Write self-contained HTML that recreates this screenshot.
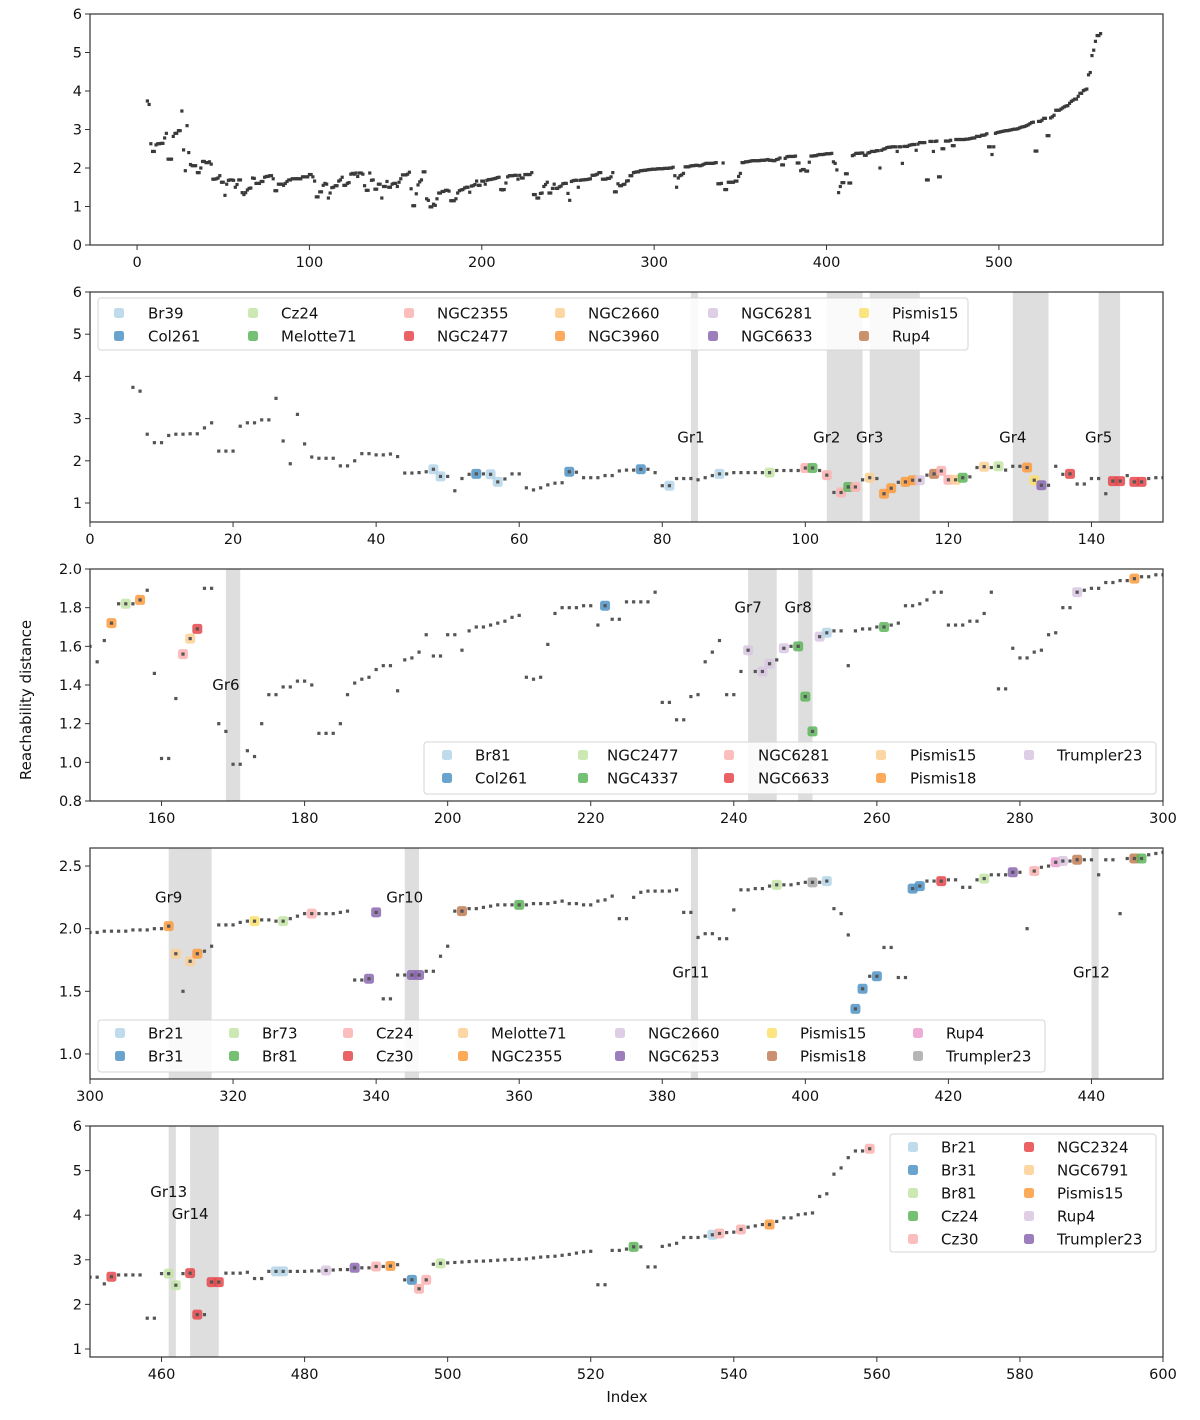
<!DOCTYPE html>
<html><head><meta charset="utf-8">
<style>
html,body{margin:0;padding:0;background:#fff;}
svg text{font-family:"DejaVu Sans","Liberation Sans",sans-serif;fill:#111;}
</style></head>
<body>
<svg id="chart" xmlns="http://www.w3.org/2000/svg" width="1200" height="1415" viewBox="0 0 1200 1415">
<rect width="1200" height="1415" fill="#fff"/>
<text x="0" y="0" font-size="15" text-anchor="middle" transform="translate(31,700) rotate(-90)">Reachability distance</text>
<text x="627" y="1402" font-size="15" text-anchor="middle">Index</text>
</svg>
<script>
// reachability values, starting at index 6 (indices 0-5 undefined)
const startIndex = 6;
const reach = [
3.74,3.65,2.63,2.43,2.43,2.6,2.63,2.63,2.64,2.64,2.78,2.90,2.23,2.23,2.23,2.82,2.9,2.9,2.97,2.97,
3.48,2.47,1.93,3.10,2.40,2.09,2.06,2.06,2.06,1.88,1.88,2.0,2.17,2.17,2.14,2.14,2.16,2.10,1.71,1.71,
1.72,1.74,1.80,1.63,1.63,1.29,1.58,1.68,1.69,1.69,1.68,1.50,1.57,1.69,1.69,1.36,1.31,1.36,1.43,1.47,
1.48,1.74,1.73,1.60,1.60,1.60,1.65,1.65,1.76,1.78,1.78,1.80,1.80,1.72,1.41,1.41,1.58,1.58,1.58,1.55,
1.60,1.65,1.69,1.69,1.72,1.72,1.72,1.72,1.72,1.72,1.77,1.77,1.77,1.77,1.83,1.83,1.77,1.66,1.25,1.25,
1.38,1.38,1.55,1.60,1.58,1.22,1.35,1.49,1.50,1.54,1.54,1.66,1.69,1.76,1.55,1.55,1.60,1.62,1.84,1.86,
1.84,1.87,1.78,1.87,1.87,1.84,1.54,1.42,1.42,1.87,1.68,1.69,1.45,1.45,1.58,1.58,1.22,1.52,1.52,1.65,
1.50,1.50,1.58,1.60,
1.60,1.52,1.63,1.72,1.82,1.82,1.82,1.84,1.89,1.46,1.02,1.02,1.33,1.56,1.64,1.69,1.90,1.90,1.20,1.16,
0.99,0.99,1.06,1.03,1.20,1.35,1.35,1.39,1.39,1.42,1.42,1.40,1.15,1.15,1.15,1.20,1.35,1.41,1.43,1.44,
1.48,1.50,1.50,1.37,1.53,1.54,1.57,1.66,1.55,1.55,1.66,1.66,1.58,1.68,1.70,1.70,1.71,1.72,1.73,1.75,
1.76,1.44,1.43,1.44,1.61,1.77,1.80,1.80,1.80,1.81,1.81,1.71,1.81,1.74,1.74,1.83,1.83,1.83,1.83,1.88,
1.31,1.31,1.22,1.22,1.34,1.35,1.52,1.57,1.63,1.35,1.35,1.47,1.58,1.47,1.47,1.51,1.53,1.59,1.60,1.60,
1.34,1.16,1.65,1.67,1.68,1.68,1.50,1.68,1.69,1.69,1.70,1.70,1.71,1.72,1.81,1.81,1.82,1.84,1.88,1.88,
1.71,1.71,1.71,1.73,1.73,1.77,1.88,1.38,1.38,1.59,1.54,1.54,1.57,1.58,1.66,1.67,1.80,1.80,1.88,1.89,
1.90,1.90,1.93,1.93,1.94,1.94,1.95,1.96,1.96,1.97,
1.97,1.97,1.98,1.98,1.98,1.98,1.99,1.99,1.99,2.00,2.00,2.02,1.80,1.50,1.74,1.80,1.82,1.86,2.03,2.03,
2.03,2.05,2.06,2.06,2.07,2.07,2.06,2.06,2.08,2.10,2.12,2.12,2.12,2.12,2.12,2.13,2.14,1.59,1.59,1.60,
2.13,1.44,1.44,1.63,1.63,1.63,1.63,1.66,1.66,1.78,1.86,2.14,2.14,2.16,2.16,2.17,2.18,2.19,2.19,2.19,
2.19,2.19,2.20,2.20,2.20,2.21,2.22,2.20,2.20,2.19,2.19,2.22,2.23,2.26,2.08,2.08,2.25,2.29,2.30,2.30,
2.30,2.30,2.31,2.13,2.13,1.93,1.96,1.96,1.92,1.92,2.15,2.31,2.31,2.32,2.32,2.34,2.35,2.35,2.35,2.36,
2.37,2.37,2.37,2.38,2.16,2.12,1.95,1.36,1.52,1.62,1.62,1.85,1.85,1.61,1.61,2.32,2.34,2.38,2.38,2.38,
2.39,2.39,2.33,2.33,2.39,2.40,2.43,2.43,2.43,2.45,2.45,2.00,2.46,2.49,2.50,2.53,2.54,2.54,2.55,2.55,
2.55,2.43,2.55,2.55,2.12,2.56,2.56,2.56,2.59,2.60,
2.61,2.61,2.46,2.62,2.66,2.66,2.66,2.66,1.69,1.69,2.69,2.69,2.43,2.69,2.70,1.77,1.77,2.50,2.50,2.70,
2.70,2.70,2.72,2.58,2.58,2.74,2.74,2.74,2.74,2.74,2.74,2.75,2.75,2.76,2.77,2.78,2.78,2.82,2.82,2.82,
2.85,2.85,2.86,2.89,2.55,2.55,2.35,2.55,2.90,2.92,2.93,2.94,2.95,2.96,2.97,2.97,2.98,2.99,3.00,3.01,
3.01,3.02,3.04,3.06,3.07,3.08,3.10,3.12,3.15,3.18,3.19,2.44,2.44,3.21,3.21,3.24,3.29,3.29,2.84,2.84,
3.30,3.33,3.37,3.50,3.50,3.50,3.53,3.56,3.59,3.61,3.62,3.68,3.73,3.76,3.79,3.79,3.86,3.94,3.94,4.01,
4.03,4.05,4.42,4.48,4.92,5.06,5.29,5.44,5.44,5.49
];

// cluster membership per panel: [index, cluster]
const members2 = [[48,"Br39"],[49,"Br39"],[54,"Col261"],[56,"Br39"],[57,"Br39"],[67,"Col261"],[77,"Col261"],[81,"Br39"],[88,"Br39"],[95,"Cz24"],[100,"NGC2355"],[101,"Melotte71"],[103,"NGC2355"],[105,"NGC2355"],[106,"Melotte71"],[107,"NGC2355"],[109,"NGC2660"],[111,"NGC3960"],[112,"NGC3960"],[114,"NGC3960"],[115,"NGC3960"],[116,"NGC6281"],[118,"Rup4"],[119,"NGC2355"],[120,"NGC2355"],[121,"NGC2660"],[122,"Melotte71"],[125,"NGC2660"],[127,"Cz24"],[131,"NGC3960"],[132,"Pismis15"],[133,"NGC6633"],[137,"NGC2477"],[143,"NGC2477"],[144,"NGC2477"],[146,"NGC2477"],[147,"NGC2477"]];
const members3 = [[153,"Pismis18"],[155,"NGC2477"],[157,"Pismis18"],[163,"NGC6281"],[164,"Pismis15"],[165,"NGC6633"],[222,"Col261"],[242,"Trumpler23"],[244,"Trumpler23"],[245,"Trumpler23"],[247,"Trumpler23"],[249,"NGC4337"],[250,"NGC4337"],[251,"NGC4337"],[252,"Trumpler23"],[253,"Br81"],[261,"NGC4337"],[288,"Trumpler23"],[296,"Pismis18"]];
const members4 = [[311,"NGC2355"],[312,"Melotte71"],[314,"Melotte71"],[315,"NGC2355"],[323,"Pismis15"],[327,"Br73"],[331,"Cz24"],[339,"NGC6253"],[340,"NGC6253"],[345,"NGC6253"],[346,"NGC6253"],[352,"Pismis18"],[360,"Br81"],[396,"Br73"],[401,"Trumpler23"],[403,"Br21"],[407,"Br31"],[408,"Br31"],[410,"Br31"],[415,"Br31"],[416,"Br31"],[419,"Cz30"],[425,"Br73"],[429,"NGC6253"],[432,"Cz24"],[435,"Rup4"],[436,"NGC2660"],[438,"Pismis18"],[446,"Pismis18"],[447,"Br81"]];
const members5 = [[453,"NGC2324"],[461,"Br81"],[462,"Br81"],[464,"NGC2324"],[465,"NGC2324"],[467,"NGC2324"],[468,"NGC2324"],[476,"Br21"],[477,"Br21"],[483,"Rup4"],[487,"Trumpler23"],[490,"Cz30"],[492,"Pismis15"],[495,"Br31"],[496,"Cz30"],[497,"Cz30"],[499,"Br81"],[526,"Cz24"],[537,"Br21"],[538,"Cz30"],[541,"Cz30"],[545,"Pismis15"],[559,"Cz30"]];

const legend2 = ["Br39","Col261","Cz24","Melotte71","NGC2355","NGC2477","NGC2660","NGC3960","NGC6281","NGC6633","Pismis15","Rup4"];
const legend3 = ["Br81","Col261","NGC2477","NGC4337","NGC6281","NGC6633","Pismis15","Pismis18","Trumpler23"];
const legend4 = ["Br21","Br31","Br73","Br81","Cz24","Cz30","Melotte71","NGC2355","NGC2660","NGC6253","Pismis15","Pismis18","Rup4","Trumpler23"];
const legend5 = ["Br21","Br31","Br81","Cz24","Cz30","NGC2324","NGC6791","Pismis15","Rup4","Trumpler23"];

// group bands: [name, start, end, labelValue]
const groups2 = [["Gr1",84,85,2.55],["Gr2",103,108,2.55],["Gr3",109,116,2.55],["Gr4",129,134,2.55],["Gr5",141,144,2.55]];
const groups3 = [["Gr6",169,171,1.40],["Gr7",242,246,1.80],["Gr8",249,251,1.80]];
const groups4 = [["Gr9",311,317,2.25],["Gr10",344,346,2.25],["Gr11",384,385,1.65],["Gr12",440,441,1.65]];
const groups5 = [["Gr13",461,462,4.52],["Gr14",464,468,4.03]];

const xTicks1 = [0,100,200,300,400,500];
const yTicks1 = [0,1,2,3,4,5,6];
const xTicks2 = [0,20,40,60,80,100,120,140];
const yTicks2 = [1,2,3,4,5,6];
const xTicks3 = [160,180,200,220,240,260,280,300];
const yTicks3 = [0.8,1.0,1.2,1.4,1.6,1.8,2.0];
const xTicks4 = [300,320,340,360,380,400,420,440];
const yTicks4 = [1.0,1.5,2.0,2.5];
const xTicks5 = [460,480,500,520,540,560,580,600];
const yTicks5 = [1,2,3,4,5,6];

const palette = ["#b5d5e8","#4f93c6","#c4e5a6","#5db55b","#fbb3b2","#e6474a","#fdd093","#fd9b3e","#d8c6e2","#8b67b2","#fbe06a","#c27d55","#ec9ed0","#a9a9a9"];

const svg = document.getElementById('chart');
const NS = 'http://www.w3.org/2000/svg';
function mk(tag, attrs, parent){
  const e = document.createElementNS(NS, tag);
  for (const k in attrs) e.setAttribute(k, attrs[k]);
  (parent||svg).appendChild(e);
  return e;
}

function panel(cfg){
  const {id,x0,x1,y0,y1,xmin,xmax,ymin,ymax,xTicks,yTicks,yDec,members,legend,groups,leg} = cfg;
  const sx = v => x0 + (v - xmin) / (xmax - xmin) * (x1 - x0);
  const sy = v => y1 - (v - ymin) / (ymax - ymin) * (y1 - y0);
  const g = mk('g', {});
  
  
  const cp = mk('clipPath', {id: id + '-clip'}, g);
  mk('rect', {x: x0, y: y0, width: x1 - x0, height: y1 - y0}, cp);
  const plot = mk('g', {'clip-path': 'url(#' + id + '-clip)'}, g);
  // bands
  (groups||[]).forEach(gr => {
    const b = mk('rect', {x: sx(gr[1]), y: y0, width: sx(gr[2]) - sx(gr[1]), height: y1 - y0, fill: '#dedede'}, plot);
    
    
  });
  // cluster markers
  (members||[]).forEach(m => {
    const idx = m[0], v = reach[idx - startIndex];
    const c = palette[legend.indexOf(m[1])];
    const r = mk('rect', {x: sx(idx) - 5, y: sy(v) - 5, width: 10, height: 10, rx: 2.5, fill: c, opacity: 0.85}, plot);
    
    
  });
  // points
  const dotColor = members ? '#555' : '#3a3a3a';
  reach.forEach((v, k) => {
    const idx = k + startIndex;
    if (idx < xmin - 1 || idx > xmax + 1) return;
    const p = mk('rect', {x: sx(idx) - 1.6, y: sy(v) - 1.6, width: 3.2, height: 3.2, fill: dotColor}, plot);
    
    
  });
  // group labels
  (groups||[]).forEach(gr => {
    const t = mk('text', {x: sx(gr[1]), y: sy(gr[3]) + 5, 'font-size': 15, 'text-anchor': 'middle'}, g);
    t.textContent = gr[0];
    
    
  });
  // frame
  const fr = mk('rect', {x: x0, y: y0, width: x1 - x0, height: y1 - y0, fill: 'none', stroke: '#333', 'stroke-width': 1.2}, g);
  
  
  xTicks.forEach(t => {
    const X = sx(t);
    mk('line', {x1: X, x2: X, y1: y1, y2: y1 + 5, stroke: '#333', 'stroke-width': 1}, g);
    const tx = mk('text', {x: X, y: y1 + 22, 'font-size': 14.5, 'text-anchor': 'middle'}, g);
    tx.textContent = String(t);
    
    
  });
  yTicks.forEach(t => {
    const Y = sy(t);
    mk('line', {x1: x0 - 5, x2: x0, y1: Y, y2: Y, stroke: '#333', 'stroke-width': 1}, g);
    const ty = mk('text', {x: x0 - 8, y: Y + 5, 'font-size': 14.5, 'text-anchor': 'end'}, g);
    ty.textContent = yDec ? t.toFixed(1) : String(t);
    
    
  });
  // legend
  if (leg) {
    const lg = mk('g', {}, g);
    
    
    mk('rect', {x: leg.x, y: leg.y, width: leg.w, height: leg.h, rx: 3, fill: '#fff', 'fill-opacity': 0.85, stroke: '#d5d5d5'}, lg);
    legend.forEach((name, k) => {
      const col = Math.floor(k / leg.rows), row = k % leg.rows;
      const mx = leg.mx[col], ty = leg.ry + row * leg.dy;
      const sq = mk('rect', {x: mx - 5, y: ty - 5, width: 10, height: 10, rx: 2.5, fill: palette[k], opacity: 0.85}, lg);
      
      
      const tt = mk('text', {x: leg.tx[col], y: ty + 5.5, 'font-size': 15}, lg);
      tt.textContent = name;
      
      
    });
  }
}

panel({id:'panel-overview',x0:90,x1:1163,y0:14,y1:245,xmin:-27.3,xmax:595.2,ymin:0,ymax:6,xTicks:xTicks1,yTicks:yTicks1});
panel({id:'panel-0-150',x0:90,x1:1163,y0:292,y1:522,xmin:0,xmax:150,ymin:0.55,ymax:6,xTicks:xTicks2,yTicks:yTicks2,members:members2,legend:legend2,groups:groups2,
  leg:{x:98,y:298,w:870,h:52,rows:2,ry:313,dy:23,mx:[119,253,409,560,713,864],tx:[148,281,437,588,741,892]}});
panel({id:'panel-150-300',x0:90,x1:1163,y0:569,y1:801,xmin:150,xmax:300,ymin:0.8,ymax:2.0,xTicks:xTicks3,yTicks:yTicks3,yDec:true,members:members3,legend:legend3,groups:groups3,
  leg:{x:424,y:742,w:732,h:52,rows:2,ry:755,dy:23,mx:[447,447+136,729,881,1029],tx:[475,475+132,758,910,1057]}});
panel({id:'panel-300-450',x0:90,x1:1163,y0:848,y1:1079,xmin:300,xmax:450,ymin:0.80,ymax:2.644,xTicks:xTicks4,yTicks:yTicks4,yDec:true,members:members4,legend:legend4,groups:groups4,
  leg:{x:98,y:1020,w:947,h:52,rows:2,ry:1033,dy:23,mx:[120,234,348,463,620,772,918],tx:[148,262,376,491,648,800,946]}});
panel({id:'panel-450-600',x0:90,x1:1163,y0:1126,y1:1357,xmin:450,xmax:600,ymin:0.82,ymax:6,xTicks:xTicks5,yTicks:yTicks5,members:members5,legend:legend5,groups:groups5,
  leg:{x:890,y:1134,w:266,h:118,rows:5,ry:1147,dy:23,mx:[913,1029],tx:[941,1057]}});
</script>
</body></html>
